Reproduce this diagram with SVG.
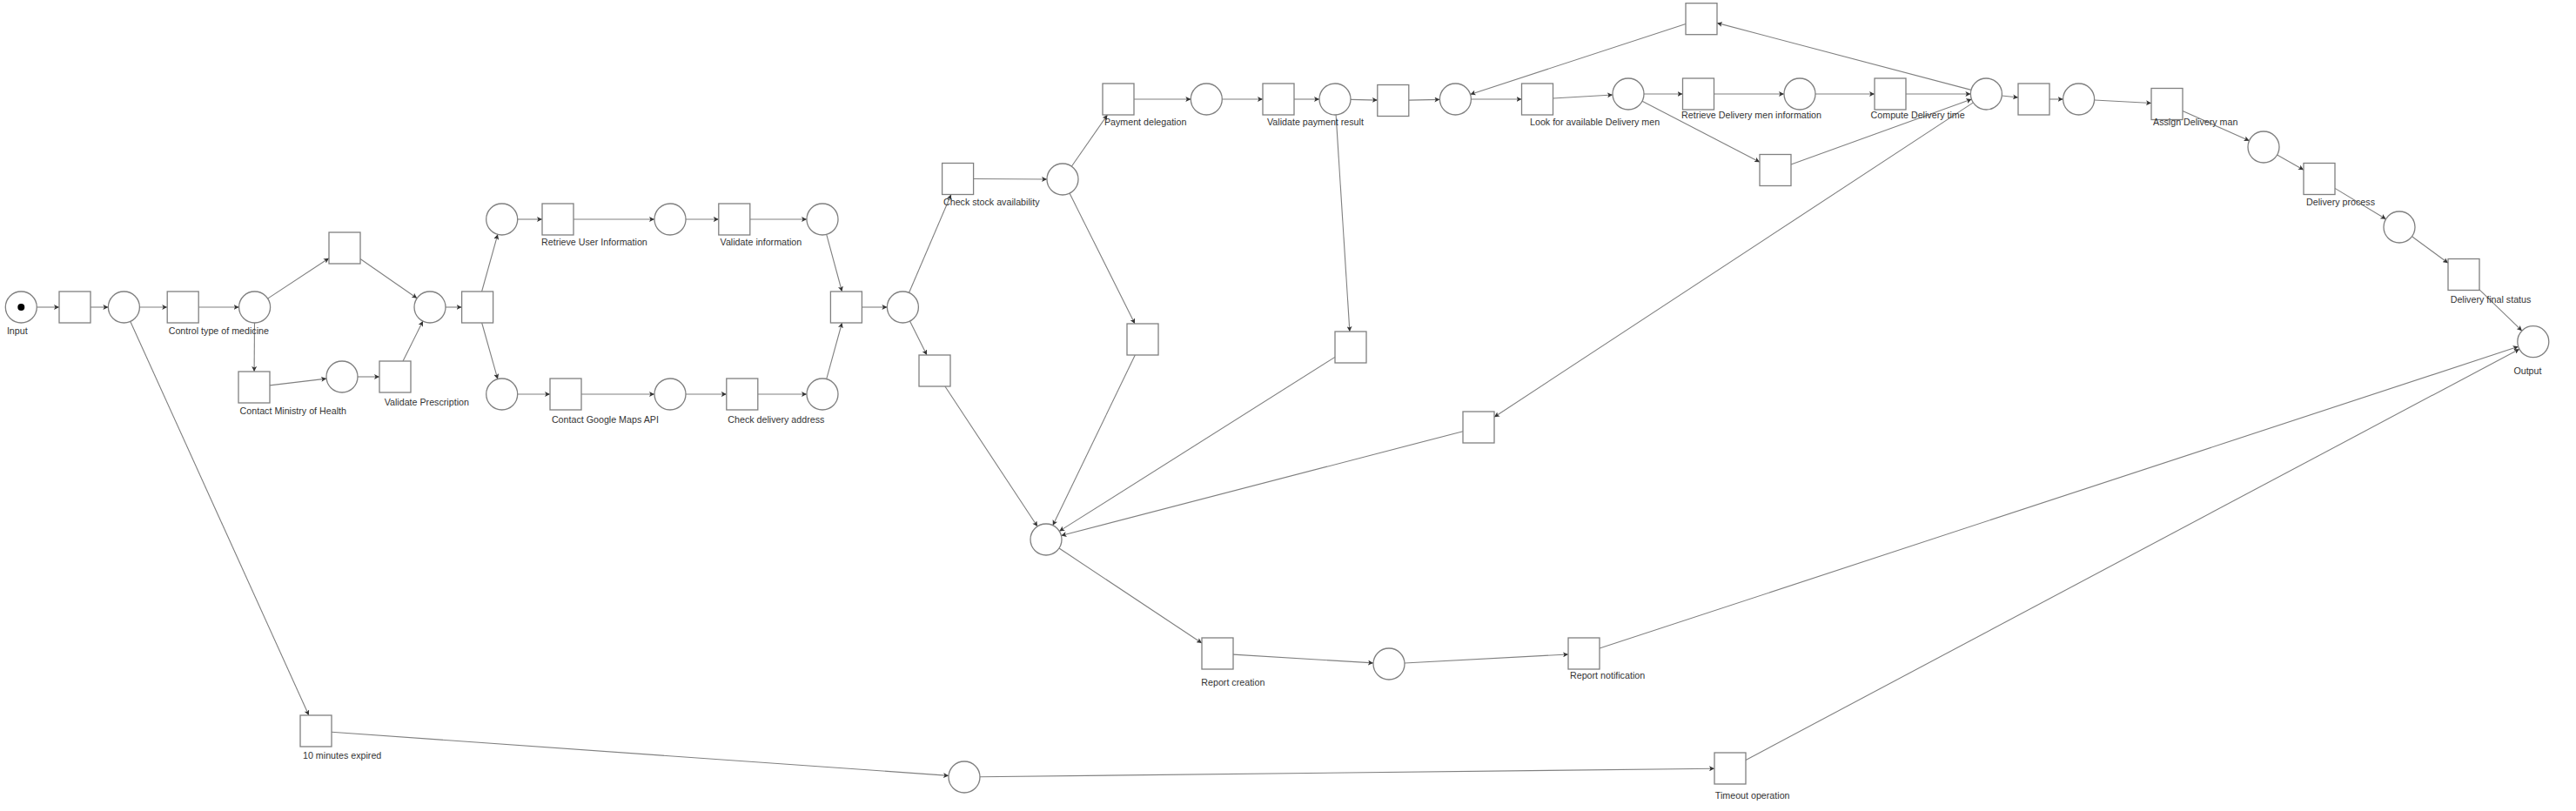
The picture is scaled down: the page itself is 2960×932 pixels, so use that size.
<svg xmlns="http://www.w3.org/2000/svg" width="2960" height="932" viewBox="0 0 2960 932">
<style>
.p{fill:#fff;stroke:#808080;stroke-width:1.3}
.t{fill:#fff;stroke:#808080;stroke-width:1.3}
.e{stroke:#808080;stroke-width:1.1;fill:none;marker-end:url(#ah)}
text{font-family:"Liberation Sans",Arial,sans-serif;font-size:10.7px;fill:#333}
</style>
<defs>
<marker id="ah" viewBox="0 0 8 8" refX="8" refY="4" markerWidth="6" markerHeight="6" markerUnits="userSpaceOnUse" orient="auto">
<path d="M0,0 L8,4 L0,8 L2,4 z" fill="#333"/>
</marker>
</defs>
<rect width="2960" height="932" fill="#fff"/>
<g id="connectors">
<line class="e" x1="42.3" y1="353" x2="68" y2="353"/>
<line class="e" x1="104" y1="353" x2="124.4" y2="353"/>
<line class="e" x1="160.4" y1="353" x2="192.2" y2="353"/>
<line class="e" x1="149.8" y1="369.4" x2="354.85" y2="822"/>
<line class="e" x1="228.2" y1="353" x2="274.6" y2="353"/>
<line class="e" x1="307.6" y1="343.1" x2="378" y2="296.8"/>
<line class="e" x1="292.5" y1="371" x2="292.1" y2="427"/>
<line class="e" x1="414" y1="297.5" x2="479.2" y2="342.7"/>
<line class="e" x1="310" y1="442.9" x2="375.1" y2="435.1"/>
<line class="e" x1="411" y1="433" x2="436" y2="433"/>
<line class="e" x1="463" y1="415" x2="485.95" y2="369.1"/>
<line class="e" x1="512" y1="353" x2="530.6" y2="353"/>
<line class="e" x1="553.6" y1="335" x2="571.9" y2="269.3"/>
<line class="e" x1="553.66" y1="371" x2="571.9" y2="435.7"/>
<line class="e" x1="594.7" y1="252" x2="623" y2="252"/>
<line class="e" x1="659" y1="252" x2="752" y2="252"/>
<line class="e" x1="788" y1="252" x2="825.8" y2="252"/>
<line class="e" x1="861.8" y1="252" x2="927" y2="252"/>
<line class="e" x1="949.7" y1="269.4" x2="967.5" y2="335"/>
<line class="e" x1="594.7" y1="453" x2="632" y2="453"/>
<line class="e" x1="668" y1="453" x2="752" y2="453"/>
<line class="e" x1="788" y1="453" x2="834.8" y2="453"/>
<line class="e" x1="870.8" y1="453" x2="927" y2="453"/>
<line class="e" x1="949.7" y1="435.6" x2="967.5" y2="371"/>
<line class="e" x1="990.4" y1="353" x2="1019.4" y2="353"/>
<line class="e" x1="1044.5" y1="336.5" x2="1092.9" y2="223.5"/>
<line class="e" x1="1045.5" y1="369.1" x2="1065" y2="408"/>
<line class="e" x1="1085.9" y1="444" x2="1192.1" y2="605"/>
<line class="e" x1="1118.6" y1="205.5" x2="1203" y2="206"/>
<line class="e" x1="1231.3" y1="191.2" x2="1272.5" y2="132"/>
<line class="e" x1="1229" y1="222.1" x2="1304" y2="372"/>
<line class="e" x1="1304.3" y1="408" x2="1209.8" y2="603.8"/>
<line class="e" x1="1303" y1="114" x2="1368.3" y2="114"/>
<line class="e" x1="1404.3" y1="114" x2="1451" y2="114"/>
<line class="e" x1="1487" y1="114" x2="1516" y2="114"/>
<line class="e" x1="1552" y1="114.4" x2="1582.8" y2="115.1"/>
<line class="e" x1="1535.1" y1="132" x2="1550.9" y2="381"/>
<line class="e" x1="1534" y1="410.4" x2="1217.2" y2="610.4"/>
<line class="e" x1="1618.8" y1="115.1" x2="1654.4" y2="114.4"/>
<line class="e" x1="1690.4" y1="114" x2="1748.5" y2="114"/>
<line class="e" x1="1784.5" y1="113" x2="1853" y2="109"/>
<line class="e" x1="1889" y1="108" x2="1933.5" y2="108"/>
<line class="e" x1="1887" y1="116.3" x2="2022" y2="186.2"/>
<line class="e" x1="1969.5" y1="108" x2="2050" y2="108"/>
<line class="e" x1="2086" y1="108" x2="2154" y2="108"/>
<line class="e" x1="2190" y1="108" x2="2264.4" y2="108"/>
<line class="e" x1="2058" y1="189" x2="2265.5" y2="114.1"/>
<line class="e" x1="2265" y1="103.4" x2="1973" y2="26.4"/>
<line class="e" x1="1937" y1="27.6" x2="1689.5" y2="108.4"/>
<line class="e" x1="2300.3" y1="110" x2="2319" y2="112"/>
<line class="e" x1="2267.4" y1="117.9" x2="1717" y2="479.2"/>
<line class="e" x1="1681" y1="495.7" x2="1219.4" y2="615.5"/>
<line class="e" x1="2355" y1="114" x2="2370.6" y2="114"/>
<line class="e" x1="2406.6" y1="115" x2="2472" y2="118.5"/>
<line class="e" x1="2508" y1="127.5" x2="2584.6" y2="161.7"/>
<line class="e" x1="2616.6" y1="177.9" x2="2647" y2="195.2"/>
<line class="e" x1="2683" y1="216.4" x2="2741.6" y2="251.7"/>
<line class="e" x1="2771.5" y1="271.7" x2="2813" y2="302.2"/>
<line class="e" x1="2849" y1="332.9" x2="2897.9" y2="380.2"/>
<line class="e" x1="1217" y1="630" x2="1381" y2="739"/>
<line class="e" x1="1417" y1="752.1" x2="1578" y2="761.9"/>
<line class="e" x1="1614" y1="762" x2="1802" y2="752"/>
<line class="e" x1="1838" y1="745.1" x2="2893.7" y2="398.3"/>
<line class="e" x1="381" y1="841.3" x2="1090" y2="891.4"/>
<line class="e" x1="1126" y1="892.8" x2="1970" y2="883.2"/>
<line class="e" x1="2006" y1="873.4" x2="2894.9" y2="401.2"/>
</g>
<g id="places">
<g id="p-input"><circle class="p" cx="24.3" cy="353" r="18"/><circle cx="24.3" cy="353" r="4" fill="#000"/><text x="7.9" y="383.5">Input</text></g>
<g id="p1"><circle class="p" cx="142.4" cy="353" r="18"/></g>
<g id="p2"><circle class="p" cx="292.6" cy="353" r="18"/></g>
<g id="p3"><circle class="p" cx="494" cy="353" r="18"/></g>
<g id="p4"><circle class="p" cx="393" cy="433" r="18"/></g>
<g id="p5"><circle class="p" cx="576.7" cy="252" r="18"/></g>
<g id="p6"><circle class="p" cx="770" cy="252" r="18"/></g>
<g id="p7"><circle class="p" cx="945" cy="252" r="18"/></g>
<g id="p8"><circle class="p" cx="576.7" cy="453" r="18"/></g>
<g id="p9"><circle class="p" cx="770" cy="453" r="18"/></g>
<g id="p10"><circle class="p" cx="945" cy="453" r="18"/></g>
<g id="p11"><circle class="p" cx="1037.4" cy="353" r="18"/></g>
<g id="p12"><circle class="p" cx="1221" cy="206" r="18"/></g>
<g id="p13"><circle class="p" cx="1386.3" cy="114" r="18"/></g>
<g id="p14"><circle class="p" cx="1534" cy="114" r="18"/></g>
<g id="p15"><circle class="p" cx="1672.4" cy="114" r="18"/></g>
<g id="p16"><circle class="p" cx="1871" cy="108" r="18"/></g>
<g id="p17"><circle class="p" cx="2068" cy="108" r="18"/></g>
<g id="p18"><circle class="p" cx="2282.4" cy="108" r="18"/></g>
<g id="p19"><circle class="p" cx="2388.6" cy="114" r="18"/></g>
<g id="p20"><circle class="p" cx="2601" cy="169" r="18"/></g>
<g id="p21"><circle class="p" cx="2757" cy="261" r="18"/></g>
<g id="p-output"><circle class="p" cx="2910.8" cy="392.7" r="18"/><text x="2888.4" y="430.2">Output</text></g>
<g id="p23"><circle class="p" cx="1202" cy="620" r="18"/></g>
<g id="p24"><circle class="p" cx="1596" cy="763" r="18"/></g>
<g id="p25"><circle class="p" cx="1108" cy="893" r="18"/></g>
</g>
<g id="transitions">
<g id="t1"><rect class="t" x="68" y="335" width="36" height="36"/></g>
<g id="t-control"><rect class="t" x="192.2" y="335" width="36" height="36"/><text x="193.7" y="383.5">Control type of medicine</text></g>
<g id="t3"><rect class="t" x="378" y="267" width="36" height="36"/></g>
<g id="t-ministry"><rect class="t" x="274" y="427" width="36" height="36"/><text x="275.6" y="475.5">Contact Ministry of Health</text></g>
<g id="t-prescription"><rect class="t" x="436" y="415" width="36" height="36"/><text x="441.7" y="465.5">Validate Prescription</text></g>
<g id="t6"><rect class="t" x="530.6" y="335" width="36" height="36"/></g>
<g id="t-retrieve-user"><rect class="t" x="623" y="234" width="36" height="36"/><text x="622" y="281.8">Retrieve User Information</text></g>
<g id="t-validate-info"><rect class="t" x="825.8" y="234" width="36" height="36"/><text x="827.6" y="281.5">Validate information</text></g>
<g id="t-google"><rect class="t" x="632" y="435" width="36" height="36"/><text x="633.9" y="485.8">Contact Google Maps API</text></g>
<g id="t-address"><rect class="t" x="834.8" y="435" width="36" height="36"/><text x="836.3" y="485.5">Check delivery address</text></g>
<g id="t11"><rect class="t" x="954.4" y="335" width="36" height="36"/></g>
<g id="t-stock"><rect class="t" x="1082.6" y="187.5" width="36" height="36"/><text x="1084" y="235.5">Check stock availability</text></g>
<g id="t13"><rect class="t" x="1056" y="408" width="36" height="36"/></g>
<g id="t-payment"><rect class="t" x="1267" y="96" width="36" height="36"/><text x="1268.9" y="143.5">Payment delegation</text></g>
<g id="t-validate-payment"><rect class="t" x="1451" y="96" width="36" height="36"/><text x="1456" y="143.5">Validate payment result</text></g>
<g id="t16"><rect class="t" x="1582.8" y="97.5" width="36" height="36"/></g>
<g id="t-look"><rect class="t" x="1748.5" y="96" width="36" height="36"/><text x="1758" y="144.2">Look for available Delivery men</text></g>
<g id="t-retrieve-delivery"><rect class="t" x="1933.5" y="90" width="36" height="36"/><text x="1932" y="135.8">Retrieve Delivery men information</text></g>
<g id="t-compute"><rect class="t" x="2154" y="90" width="36" height="36"/><text x="2149.6" y="135.8">Compute Delivery time</text></g>
<g id="t20"><rect class="t" x="1937" y="3.7" width="36" height="36"/></g>
<g id="t21"><rect class="t" x="2022" y="177.5" width="36" height="36"/></g>
<g id="t22"><rect class="t" x="2319" y="96" width="36" height="36"/></g>
<g id="t-assign"><rect class="t" x="2472" y="101.5" width="36" height="36"/><text x="2474" y="144.2">Assign Delivery man</text></g>
<g id="t-process"><rect class="t" x="2647" y="187.5" width="36" height="36"/><text x="2650" y="235.8">Delivery process</text></g>
<g id="t-final"><rect class="t" x="2813" y="297.5" width="36" height="36"/><text x="2815.7" y="347.8">Delivery final status</text></g>
<g id="t26"><rect class="t" x="1295" y="372" width="36" height="36"/></g>
<g id="t27"><rect class="t" x="1534" y="381" width="36" height="36"/></g>
<g id="t28"><rect class="t" x="1681" y="473" width="36" height="36"/></g>
<g id="t-report-creation"><rect class="t" x="1381" y="733" width="36" height="36"/><text x="1380.3" y="788.2">Report creation</text></g>
<g id="t-report-notification"><rect class="t" x="1802" y="733" width="36" height="36"/><text x="1804" y="779.8">Report notification</text></g>
<g id="t-10min"><rect class="t" x="345" y="822" width="36" height="36"/><text x="348" y="871.8">10 minutes expired</text></g>
<g id="t-timeout"><rect class="t" x="1970" y="865" width="36" height="36"/><text x="1970.8" y="917.8">Timeout operation</text></g>
</g>
</svg>
